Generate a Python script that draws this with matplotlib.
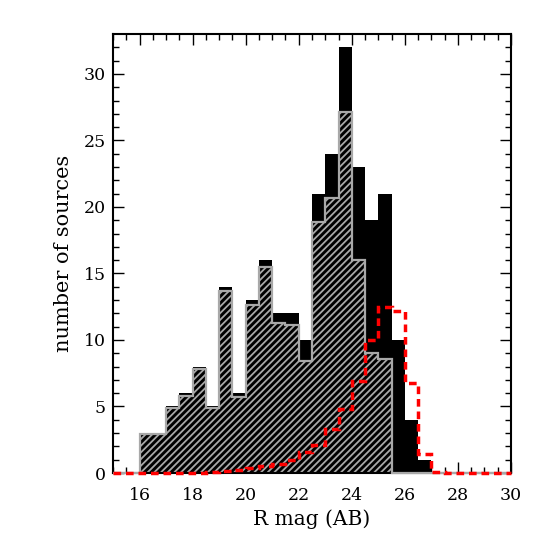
import numpy as np
import matplotlib
matplotlib.use("Agg")
import matplotlib.pyplot as plt

# bin edges (R mag, AB), 0.5 mag bins from 15 to 30
edges = np.arange(15.0, 30.01, 0.5)

# total counts per bin (black)
total = [0, 0, 3, 3, 5, 6, 8, 5, 14, 6, 13, 16, 12, 12, 10,
         21, 24, 32, 23, 19, 21, 10, 4, 1, 0, 0, 0, 0, 0, 0]
# subset counts per bin (hatched)
subset = [0, 0, 2.9, 2.9, 4.9, 5.8, 7.8, 4.9, 13.7, 5.7, 12.6, 15.5, 11.3, 11.1, 8.4,
          18.9, 20.7, 27.1, 16.0, 9.0, 8.6, 0, 0, 0, 0, 0, 0, 0, 0, 0]
# model prediction (red dashed)
model = [0.02, 0.02, 0.02, 0.02, 0.02, 0.02, 0.03, 0.05, 0.15, 0.25, 0.35, 0.5, 0.7, 0.95, 1.6,
         2.1, 3.3, 4.8, 6.9, 10.0, 12.5, 12.2, 6.8, 1.4, 0.1, 0.03, 0.02, 0.02, 0.02, 0.02]

xticks = [16, 18, 20, 22, 24, 26, 28, 30]
yticks = [0, 5, 10, 15, 20, 25, 30]

plt.rcParams['font.family'] = ['DejaVu Serif']
plt.rcParams['hatch.linewidth'] = 1.3

fig = plt.figure(figsize=(5.45, 5.45), dpi=100)
ax = fig.add_axes([113/545, 1 - 473/545, (511 - 113)/545, (473 - 34)/545])

gray = '#a8a8a8'
ax.stairs(total, edges, fill=True, color='black', linewidth=0, zorder=1)
ax.stairs(subset, edges, fill=True, facecolor='black', edgecolor=gray,
          hatch='/////', linewidth=0, zorder=2)
ax.stairs(subset, edges, fill=False, baseline=0, color=gray, linewidth=1.6,
          zorder=11, clip_on=False)
ax.stairs(model, edges, fill=False, color='red', linewidth=2.5,
          linestyle=(0, (2.2, 1.4)), zorder=12, clip_on=False)

ax.set_xlim(15, 30)
ax.set_ylim(0, 33)
ax.set_xticks(xticks)
ax.set_yticks(yticks)
ax.set_xticks(np.arange(15, 30.01, 0.5), minor=True)
ax.set_yticks(np.arange(0, 33, 1), minor=True)
ax.tick_params(which='both', direction='in', top=True, right=True, width=1.0,
               labelsize=12.5)
ax.tick_params(axis='x', which='major', pad=10)
ax.tick_params(axis='y', which='major', pad=5)
ax.tick_params(which='major', length=8)
ax.tick_params(which='minor', length=4)
for s in ax.spines.values():
    s.set_linewidth(1.5)
    s.set_zorder(10)

ax.set_xlabel('R mag (AB)', fontsize=14.5, labelpad=4)
ax.set_ylabel('number of sources', fontsize=15, labelpad=8)

fig.savefig('out.png', dpi=100)
